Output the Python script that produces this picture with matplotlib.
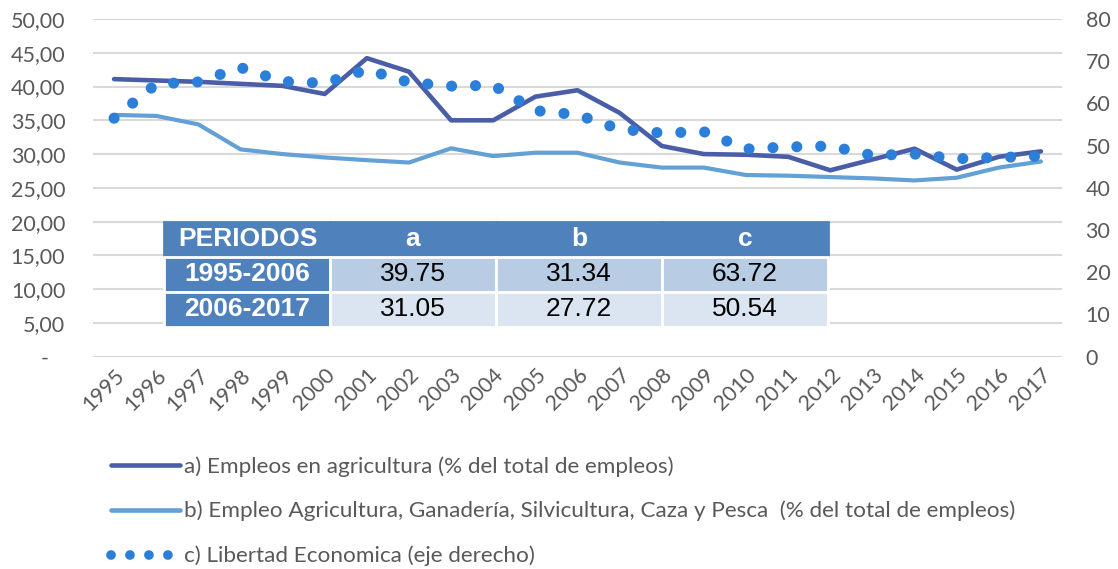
import numpy as np
import matplotlib
matplotlib.use("Agg")
import matplotlib.pyplot as plt
from matplotlib.lines import Line2D

# data
years = [str(y) for y in range(1995, 2018)]
empleo_agri = [41.1, 40.9, 40.7, 40.4, 40.1, 38.9, 44.2, 42.2, 35.0, 35.0, 38.5, 39.45,
               36.1, 31.2, 30.0, 29.9, 29.6, 27.6, 29.2, 30.8, 27.7, 29.6, 30.4]
empleo_agro = [35.8, 35.65, 34.4, 30.7, 30.0, 29.5, 29.1, 28.75, 30.85, 29.7, 30.2, 30.2,
               28.75, 28.0, 28.0, 26.9, 26.8, 26.6, 26.4, 26.1, 26.5, 28.0, 28.9]
libertad = [56.5, 64.6, 65.1, 68.5, 65.2, 64.8, 68.0, 65.0, 64.1, 64.3, 58.3, 57.3,
            53.9, 53.0, 53.3, 49.2, 49.7, 49.9, 47.7, 48.0, 46.9, 47.2, 47.5]

tab_cols = ["PERIODOS", "a", "b", "c"]
tab_rows = ["1995-2006", "2006-2017"]
tab_vals = [["39.75", "31.34", "63.72"],
            ["31.05", "27.72", "50.54"]]

labels = ["a) Empleos en agricultura (% del total de empleos)",
          "b) Empleo Agricultura, Ganadería, Silvicultura, Caza y Pesca  (% del total de empleos)",
          "c) Libertad Economica (eje derecho)"]

c_dark = "#4A5EA8"
c_light = "#62A0D6"
c_dot = "#2B7FD9"
c_txt = "#595959"

plt.rcParams['font.family'] = ['Lato', 'DejaVu Sans']

fig = plt.figure(figsize=(11.18, 5.69), dpi=100)
ax = fig.add_axes([0.0832, 0.3731, 0.8667, 0.5935])
ax2 = ax.twinx()

x = np.arange(len(years))
ax.plot(x, empleo_agri, color=c_dark, lw=3.3, solid_capstyle='round', solid_joinstyle='round', zorder=3)
ax.plot(x, empleo_agro, color=c_light, lw=3.0, solid_capstyle='round', solid_joinstyle='round', zorder=3)
ax2.plot(x, libertad, color=c_dot, lw=8.0, linestyle=(0, (0.001, 2.15)), dash_capstyle='round')

ax.set_xlim(-0.5, len(years) - 0.5)
ax.set_ylim(0, 50)
ax2.set_ylim(0, 80)
ax.set_yticks(np.arange(0, 51, 5))
ax2.set_yticks(np.arange(0, 81, 10))
ax.set_yticklabels(["-   "] + [("%.2f" % v).replace(".", ",") for v in np.arange(5, 51, 5)])
ax.set_xticks(x)
ax.set_xticklabels(years, rotation=45, ha='right', rotation_mode='anchor')

ax.grid(axis='y', color='#D9D9D9', lw=1.5)
ax.set_axisbelow(True)
for a in (ax, ax2):
    for s in a.spines.values():
        s.set_visible(False)
    a.tick_params(length=0, labelsize=15.5, colors=c_txt)
ax.tick_params(axis='y', pad=20)
ax2.tick_params(axis='y', pad=17)
ax.tick_params(axis='x', pad=6)

# summary table
cell_txt = [tab_cols] + [[r] + v for r, v in zip(tab_rows, tab_vals)]
hdr = "#4F81BD"
colors = [[hdr] * 4, [hdr] + ["#B8CCE4"] * 3, [hdr] + ["#DBE5F1"] * 3]
tb = ax.table(cellText=cell_txt, cellColours=colors, cellLoc='center',
              bbox=[0.0733, 0.088, 0.6852, 0.311], zorder=5)
tb.auto_set_font_size(False)
for (r, c), cell in tb.get_celld().items():
    cell.set_edgecolor('white')
    cell.set_linewidth(2)
    t = cell.get_text()
    t.set_fontfamily(['Liberation Sans', 'DejaVu Sans'])
    t.set_fontsize(19)
    if r == 0 or c == 0:
        t.set_color('white')
        t.set_fontweight('bold')
    if r == 0:
        cell.set_edgecolor(hdr)
        if c == 0:
            t.set_ha('left')
            cell.PAD = 0.083

handles = [Line2D([], [], color=c_dark, lw=3.3, solid_capstyle='round'),
           Line2D([], [], color=c_light, lw=3.3, solid_capstyle='round'),
           Line2D([], [], color=c_dot, lw=7.0, linestyle=(0, (0.001, 1.95)), dash_capstyle='round')]
leg = fig.legend(handles, labels, loc='upper left', bbox_to_anchor=(111 / 1118, 1 - 456 / 569),
                 frameon=False, fontsize=16.2, handlelength=3.05, handletextpad=0.2,
                 labelspacing=1.08, borderpad=0, borderaxespad=0)
for t in leg.get_texts():
    t.set_color(c_txt)

fig.savefig("out.png", dpi=100)
